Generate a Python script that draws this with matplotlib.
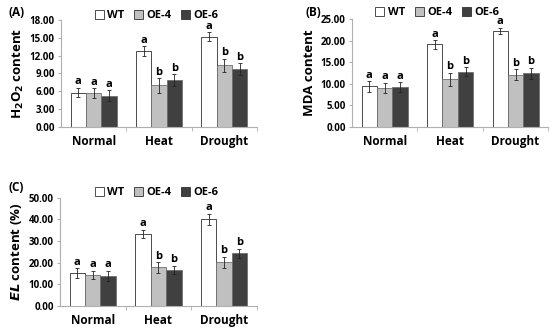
import matplotlib
matplotlib.use("Agg")
import matplotlib.pyplot as plt
import numpy as np
from matplotlib.patches import Patch

plt.rcParams['font.family'] = ['Open Sans', 'DejaVu Sans']
plt.rcParams['font.weight'] = 'bold'

categories = ["Normal", "Heat", "Drought"]
series = ["WT", "OE-4", "OE-6"]
colors = ["#ffffff", "#c0c0c0", "#404040"]

h2o2_vals = [[5.8, 12.8, 15.2], [5.7, 7.0, 10.4], [5.3, 7.9, 9.7]]
h2o2_err = [[0.8, 0.8, 0.7], [0.8, 1.2, 1.1], [0.9, 1.0, 1.0]]
h2o2_letters = [["a", "a", "a"], ["a", "b", "b"], ["a", "b", "b"]]
h2o2_ticks = [0, 3, 6, 9, 12, 15, 18]

mda_vals = [[9.4, 19.1, 22.3], [9.0, 11.0, 12.1], [9.2, 12.8, 12.4]]
mda_err = [[1.2, 1.0, 0.7], [1.2, 1.5, 1.3], [1.2, 1.0, 1.3]]
mda_letters = [["a", "a", "a"], ["a", "b", "b"], ["a", "b", "b"]]
mda_ticks = [0, 5, 10, 15, 20, 25]

el_vals = [[15.2, 33.3, 40.0], [14.3, 17.8, 20.2], [14.0, 16.8, 24.4]]
el_err = [[2.3, 1.8, 2.5], [2.0, 2.5, 2.5], [2.3, 1.8, 2.0]]
el_letters = [["a", "a", "a"], ["a", "b", "b"], ["a", "b", "b"]]
el_ticks = [0, 10, 20, 30, 40, 50]

fig = plt.figure(figsize=(5.5, 3.31), dpi=100)

def panel(rect, vals, errs, letters, ticks, ylabel, tag, tagpos, legpos):
    ax = fig.add_axes(rect)
    x = np.arange(len(categories))
    w = 0.235
    ymax = ticks[-1]
    for i in range(3):
        xs = x + (i - 1) * w
        ax.bar(xs, vals[i], width=w, color=colors[i],
               edgecolor="#303030" if i == 0 else "#707070", linewidth=0.6,
               yerr=errs[i], error_kw=dict(ecolor="#222222", elinewidth=0.6,
                                           capsize=1.5, capthick=0.6))
        for j in range(3):
            ax.text(xs[j], vals[i][j] + errs[i][j] + ymax * 0.005, letters[i][j],
                    ha="center", va="bottom", fontsize=8, fontweight="bold")
    ax.set_xlim(-0.5, 2.5)
    ax.set_ylim(0, ymax)
    ax.set_yticks(ticks)
    ax.set_yticklabels([f"{t:.2f}" for t in ticks], fontsize=7, fontweight="bold")
    ax.set_xticks(x)
    ax.set_xticklabels(categories, fontsize=8.5, fontweight="bold")
    ax.tick_params(axis="x", which="major", length=0, pad=5.5)
    ax.set_xticks([0.5, 1.5, 2.5], minor=True)
    ax.tick_params(axis="x", which="minor", length=3, color="#b0b0b0")
    ax.tick_params(axis="y", length=2.5, color="#b0b0b0", pad=2)
    for s in ["top", "right"]:
        ax.spines[s].set_visible(False)
    for s in ["left", "bottom"]:
        ax.spines[s].set_color("#b0b0b0")
        ax.spines[s].set_linewidth(0.8)
    ax.set_ylabel(ylabel, fontsize=9.5, fontweight="bold", labelpad=3)
    fig.text(tagpos[0], tagpos[1], tag, fontsize=8.5, fontweight="bold",
             ha="left", va="center")
    handles = [Patch(facecolor=colors[i], edgecolor="#303030", linewidth=0.6,
                     label=series[i]) for i in range(3)]
    fig.legend(handles=handles, loc="center", bbox_to_anchor=legpos, ncol=3,
               frameon=False, handlelength=0.8, handleheight=0.8,
               handletextpad=0.3, columnspacing=0.9, borderpad=0.1,
               prop=dict(weight="bold", size=8))
    return ax

panel([0.111, 0.616, 0.356, 0.324], h2o2_vals, h2o2_err, h2o2_letters, h2o2_ticks,
      r"H$_\mathbf{2}$O$_\mathbf{2}$ content", "(A)", (0.015, 0.963), (0.285, 0.953))
panel([0.640, 0.616, 0.357, 0.327], mda_vals, mda_err, mda_letters, mda_ticks,
      "MDA content", "(B)", (0.555, 0.963), (0.795, 0.962))
panel([0.109, 0.0755, 0.358, 0.327], el_vals, el_err, el_letters, el_ticks,
      r"$\bfit{EL}$ content (%)", "(C)", (0.015, 0.435), (0.285, 0.418))

fig.savefig("out.png", dpi=100)
